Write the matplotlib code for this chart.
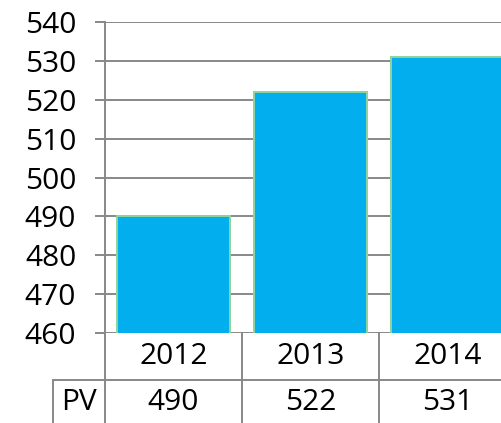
import matplotlib.pyplot as plt
import matplotlib.transforms as mtransforms

# data
years = ['2012', '2013', '2014']
pv = [490, 522, 531]
row_label = 'PV'
yticks = list(range(460, 541, 10))

grey = '#888888'
lw = 1.4
plt.rcParams['font.family'] = ['Open Sans', 'DejaVu Sans']

fig = plt.figure(figsize=(5.02, 4.23), dpi=100)
# axis runs a little past the right edge, like the original
ax = fig.add_axes([105/502, 90/423, 411/502, 311/423])

x = range(len(years))
ax.bar(x, pv, width=0.83, color='#02AEEE', edgecolor='#8ED49C', linewidth=1.4, zorder=2)

ax.set_xlim(-0.5, len(years) - 0.5)
ax.set_ylim(460, 540)
ax.set_yticks(yticks)
ax.set_xticks([])
ax.yaxis.grid(True, color=grey, lw=lw)
ax.set_axisbelow(True)
for s in ['top', 'right', 'bottom']:
    ax.spines[s].set_visible(False)
ax.spines['left'].set_color(grey)
ax.spines['left'].set_linewidth(lw)
ax.tick_params(axis='y', length=7.2, width=lw, color=grey, pad=13.5, labelsize=21.5)

# data table under the axis
trans = mtransforms.blended_transform_factory(ax.transData, ax.transAxes)
row1, row2, bottom = -0.151, -0.222, -0.4
left_cell = -0.88
for xb in [i - 0.5 for i in range(len(years) + 1)]:
    ax.plot([xb, xb], [0, bottom], color=grey, lw=lw, transform=trans, clip_on=False)
ax.plot([left_cell, len(years) - 0.5], [row1, row1], color=grey, lw=lw, transform=trans, clip_on=False)
ax.plot([left_cell, left_cell], [row1, bottom], color=grey, lw=lw, transform=trans, clip_on=False)

for i, (yr, v) in enumerate(zip(years, pv)):
    ax.text(i, -0.0756, yr, ha='center', va='center', fontsize=21.5, transform=trans)
    ax.text(i, row2, str(v), ha='center', va='center', fontsize=21.5, transform=trans)
ax.text((left_cell - 0.5) / 2, row2, row_label, ha='center', va='center', fontsize=21.5, transform=trans)

fig.savefig('out.png', dpi=100)
